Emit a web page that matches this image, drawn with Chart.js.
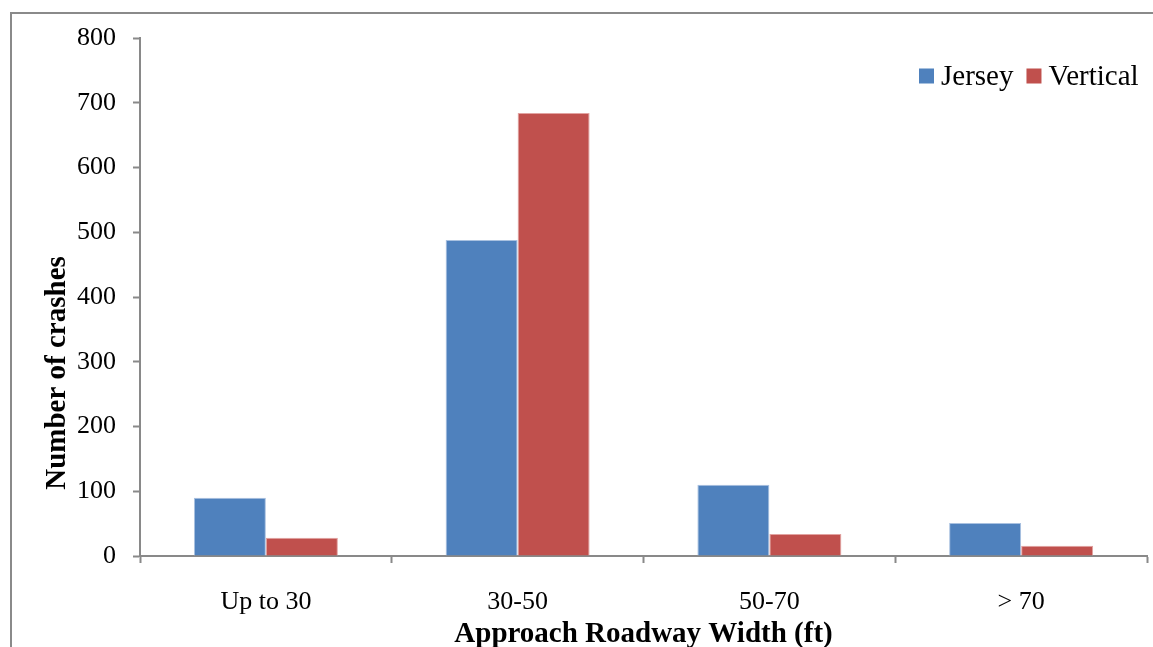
<!DOCTYPE html>
<html>
<head>
<meta charset="utf-8">
<title>Number of crashes by approach roadway width</title>
<script src="https://cdn.jsdelivr.net/npm/chart.js@4.4.1/dist/chart.umd.min.js"></script>
<style>
  html, body { margin: 0; padding: 0; background: #fff; overflow: hidden; }
  #frame {
    position: absolute;
    left: 10px;
    top: 12px;
    width: 1143px;
    height: 635px;
    border-left: 2px solid #8a8a8a;
    border-top: 2px solid #8a8a8a;
  }
  #wrap { position: absolute; left: 0; top: 0; width: 1141px; height: 633px; }
</style>
</head>
<body>
<div id="frame">
  <div id="wrap"><canvas id="chart"></canvas></div>
</div>
<script>
// data
const categories = ["Up to 30", "30-50", "50-70", "> 70"];
const jersey = [90, 488, 110, 51];
const vertical = [28, 684, 34, 16];
const yTicks = [0, 100, 200, 300, 400, 500, 600, 700, 800];
const xTitle = "Approach Roadway Width (ft)";
const yTitle = "Number of crashes";

const axisGray = "#898989";
const serif = "'Liberation Serif', 'Times New Roman', serif";

Chart.defaults.font.family = serif;
Chart.defaults.color = "#000";

// legend drawn inside the plot area, top right
const insideLegend = {
  id: "insideLegend",
  afterDraw(chart) {
    const ctx = chart.ctx;
    const box = 15;
    let x = 907;
    const y = 62;
    ctx.save();
    ctx.font = "29px " + serif;
    ctx.textBaseline = "middle";
    ctx.textAlign = "left";
    chart.data.datasets.forEach((ds) => {
      ctx.fillStyle = ds.backgroundColor;
      ctx.fillRect(x, y - box / 2, box, box);
      x += box + 7;
      ctx.fillStyle = "#000";
      ctx.fillText(ds.label, x, y + 1);
      x += ctx.measureText(ds.label).width + 13;
    });
    ctx.restore();
  }
};

// y title sits lower than the plot middle in the original, so draw it by hand
const yTitlePlugin = {
  id: "yTitlePlugin",
  afterDraw(chart) {
    const ctx = chart.ctx;
    ctx.save();
    ctx.translate(46, 359);
    ctx.rotate(-Math.PI / 2);
    ctx.font = "bold 29px " + serif;
    ctx.fillStyle = "#000";
    ctx.textAlign = "center";
    ctx.textBaseline = "middle";
    ctx.fillText(yTitle, 0, 0);
    ctx.restore();
  }
};

const ctx = document.getElementById("chart");
new Chart(ctx, {
  type: "bar",
  data: {
    labels: categories,
    datasets: [
      {
        label: "Jersey",
        data: jersey,
        backgroundColor: "#4f81bd",
        borderColor: "#a9c1e0",
        borderWidth: 1,
        categoryPercentage: 0.572,
        barPercentage: 1.0
      },
      {
        label: "Vertical",
        data: vertical,
        backgroundColor: "#c0504d",
        borderColor: "#e2a3a1",
        borderWidth: 1,
        categoryPercentage: 0.572,
        barPercentage: 1.0
      }
    ]
  },
  options: {
    responsive: true,
    maintainAspectRatio: false,
    animation: false,
    layout: { padding: { top: 24, right: 6, left: 0, bottom: 0 } },
    plugins: {
      legend: { display: false },
      tooltip: { enabled: false }
    },
    scales: {
      x: {
        offset: true,
        grid: {
          offset: true,
          drawOnChartArea: false,
          drawTicks: true,
          tickLength: 7,
          tickColor: axisGray,
          tickWidth: 2
        },
        border: { color: axisGray, width: 2 },
        ticks: { font: { size: 26 }, padding: 24, color: "#000" },
        title: {
          display: true,
          text: xTitle,
          font: { size: 29, weight: "bold" },
          padding: { top: 0, bottom: -5 }
        },
        afterFit(scale) { scale.height = 91; }
      },
      y: {
        min: 0,
        max: 800,
        afterBuildTicks(scale) {
          scale.ticks = yTicks.map((v) => ({ value: v }));
        },
        grid: {
          drawOnChartArea: false,
          drawTicks: true,
          tickLength: 7,
          tickColor: axisGray,
          tickWidth: 2
        },
        border: { color: axisGray, width: 2 },
        ticks: { font: { size: 26 }, padding: 17, color: "#000" },
        title: { display: false },
        afterFit(scale) {
          scale.width = 128;
          scale.paddingTop = 0;
          scale.paddingBottom = 0;
        }
      }
    }
  },
  plugins: [insideLegend, yTitlePlugin]
});
</script>
</body>
</html>
